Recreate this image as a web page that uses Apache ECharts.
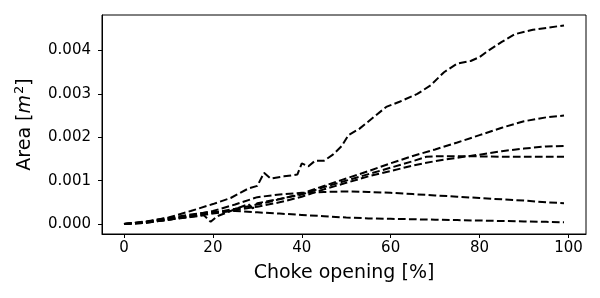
<!DOCTYPE html>
<html><head><meta charset="utf-8">
<script src="https://cdn.jsdelivr.net/npm/echarts@6/dist/echarts.min.js"></script>
<style>html,body{margin:0;padding:0;background:#fff}#c{width:600px;height:298px}</style>
</head><body><div id="c"></div>
<script>
const xTicks = [0, 20, 40, 60, 80, 100];
const yTicks = [0, 0.001, 0.002, 0.003, 0.004];

const xA = [0,5,10,15,20,24,28,30,31.5,33,36,39,40,41.5,43,45,47,49,50.5,53,56,59,62,66,69,72,75,78,80,82,85,88,92,99];
const yA = [0,0.00005,0.00015,0.0003,0.00046,0.0006,0.00082,0.00088,0.00118,0.00105,0.0011,0.00114,0.0014,0.00133,0.00146,0.00146,0.0016,0.0018,0.00205,0.0022,0.00245,0.0027,0.00282,0.003,0.0032,0.0035,0.0037,0.00376,0.00385,0.004,0.0042,0.00438,0.00448,0.00458];

const xs = [0,5,10,15,20,25,30,35,40,45,50,55,60,65,70,75,80,85,90,95,99];
const yB = [0,0.00003,0.0001,0.00018,0.00026,0.00035,0.00045,0.00057,0.0007,0.00088,0.00105,0.00122,0.0014,0.00157,0.00172,0.00188,0.00205,0.00222,0.00237,0.00246,0.0025];
const yC = [0,0.00003,0.0001,0.00017,0.00024,0.00032,0.0004,0.0005,0.00063,0.0008,0.00095,0.0011,0.00122,0.00135,0.00145,0.00153,0.0016,0.00168,0.00174,0.00179,0.0018];
const yE = [0,0.00005,0.00012,0.0002,0.0003,0.00045,0.00062,0.00068,0.00072,0.00074,0.00075,0.00074,0.00072,0.00069,0.00066,0.00063,0.0006,0.00057,0.00054,0.0005,0.00048];
const yF = [0,0.00006,0.00014,0.00022,0.00028,0.0003,0.00027,0.00024,0.00021,0.00018,0.00015,0.00013,0.00012,0.00011,0.0001,0.00009,0.00008,0.00007,0.00006,0.00005,0.00004];

const xD = [0,5,10,15,18,19.5,21,25,28,29,30,35,40,45,50,55,60,65,68,70,75,80,85,90,95,99];
const yD = [0,0.00004,0.0001,0.00016,0.0002,0.00005,0.00018,0.00034,0.00046,0.00036,0.00048,0.00058,0.00068,0.00085,0.001,0.00115,0.0013,0.00145,0.00155,0.00156,0.00156,0.00156,0.00155,0.00155,0.00155,0.00155];

const zip = (xv, yv) => xv.map((x, i) => [x, yv[i]]);
const seriesData = [zip(xA, yA), zip(xs, yB), zip(xs, yC), zip(xD, yD), zip(xs, yE), zip(xs, yF)];

const font = 'DejaVu Sans';
const chart = echarts.init(document.getElementById('c'), null, {renderer: 'canvas'});
chart.setOption({
  animation: false,
  grid: {left: 102, right: 14, top: 15, bottom: 64, show: true, borderColor: '#000', borderWidth: 1, backgroundColor: 'transparent'},
  xAxis: {
    type: 'value', min: -4.95, max: 103.95,
    name: 'Choke opening [%]', nameLocation: 'middle', nameGap: 30,
    nameTextStyle: {fontFamily: font, fontSize: 19, color: '#000'},
    axisLine: {show: true, onZero: false, lineStyle: {color: '#000', width: 1}},
    axisTick: {show: true, length: 4, customValues: xTicks, lineStyle: {color: '#000', width: 1}},
    axisLabel: {customValues: xTicks, fontFamily: font, fontSize: 15, color: '#000', margin: 7},
    splitLine: {show: false}
  },
  yAxis: {
    type: 'value', min: -0.00023, max: 0.00482,
    name: '{a|Area [}{i|m}{s|2}{a|]}', nameLocation: 'middle', nameGap: 64,
    nameTextStyle: {
      fontFamily: font, fontSize: 19, color: '#000',
      rich: {
        a: {fontFamily: font, fontSize: 19, color: '#000'},
        i: {fontFamily: font, fontSize: 19, fontStyle: 'italic', color: '#000'},
        s: {fontFamily: font, fontSize: 13, color: '#000', padding: [0, 0, 12, 1]}
      }
    },
    axisLine: {show: true, onZero: false, lineStyle: {color: '#000', width: 1}},
    axisTick: {show: true, length: 4, customValues: yTicks, lineStyle: {color: '#000', width: 1}},
    axisLabel: {customValues: yTicks, fontFamily: font, fontSize: 15, color: '#000', margin: 11,
      formatter: v => v.toFixed(3)},
    splitLine: {show: false}
  },
  series: seriesData.map(d => ({
    type: 'line', data: d, showSymbol: false, symbol: 'none',
    lineStyle: {color: '#000', width: 2, type: [7.7, 3.3]}
  }))
});
</script></body></html>
